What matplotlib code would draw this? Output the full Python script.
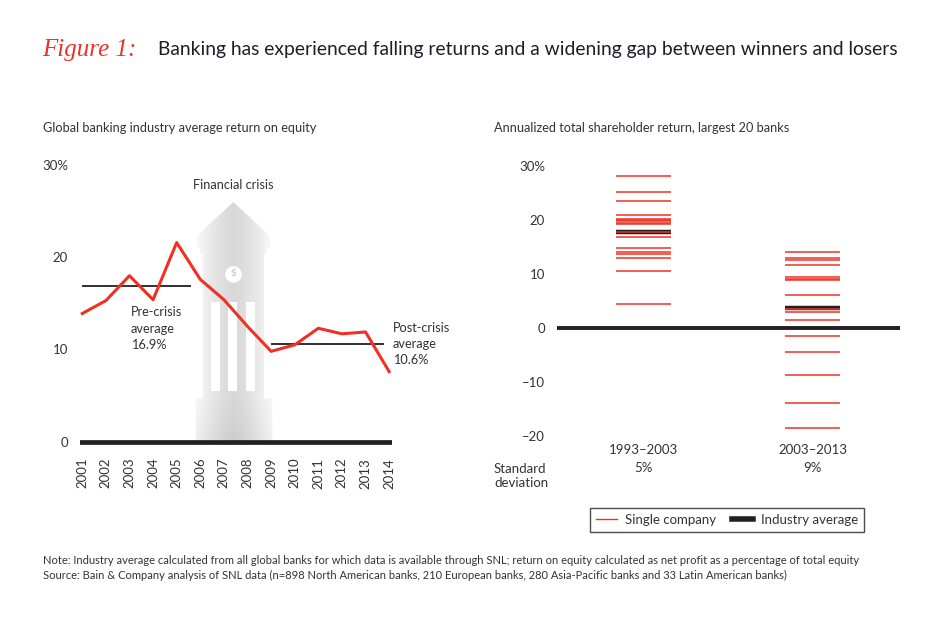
import numpy as np
import matplotlib.pyplot as plt
from matplotlib.patches import Polygon, Rectangle
from matplotlib.lines import Line2D

plt.rcParams['font.family'] = ['Lato', 'DejaVu Sans']

# left chart: global banking ROE
years = list(range(2001, 2015))
roe = [13.9, 15.3, 18.0, 15.4, 21.6, 17.6, 15.4, 12.5, 9.8, 10.5, 12.3, 11.7, 11.9, 7.6]
pre_avg = 16.9
post_avg = 10.6
pre_span = (2001, 2005.6)
post_span = (2009, 2013.8)
left_ticks = [0, 10, 20, 30]
left_ticklabels = ['0', '10', '20', '30%']

# right chart: TSR of largest 20 banks
periods = ['1993\u20132003', '2003\u20132013']
tsr_first = [28.1, 25.1, 23.5, 20.8, 20.1, 19.9, 19.7, 19.5, 19.3, 17.7,
             16.8, 14.8, 14.0, 13.6, 12.9, 10.5, 4.4]
tsr_second = [14.1, 12.9, 12.5, 11.6, 9.5, 9.1, 8.9, 6.0, 3.4, 2.9, 1.4,
              -1.5, -4.4, -8.8, -14.0, -18.6]
industry_avg = [17.7, 3.7]
std_dev = ['5%', '9%']
right_ticks = [-20, -10, 0, 10, 20, 30]
right_ticklabels = ['\u201320', '\u201310', '0', '10', '20', '30%']

RED = '#ee3124'
BLACK = '#231f20'
TXT = '#333333'

W, H = 950, 626


def fx(x):
    return x / W


def fy(y):
    return 1 - y / H


fig = plt.figure(figsize=(9.5, 6.26), dpi=100)

# title
fig.text(fx(42), fy(50), 'Figure 1:', color=RED, fontsize=18, style='italic',
         family=['Liberation Serif', 'DejaVu Serif'], va='center')
fig.text(fx(158), fy(50), 'Banking has experienced falling returns and a widening gap between winners and losers',
         color='#1e1e2a', fontsize=13.9, va='center')

fig.text(fx(43), fy(128), 'Global banking industry average return on equity', color=TXT, fontsize=9.2, va='center')
fig.text(fx(494), fy(128), 'Annualized total shareholder return, largest 20 banks', color=TXT, fontsize=9.2, va='center')

# ---- left chart ----
ax1 = fig.add_axes([fx(79.9), fy(450.9), (391.5 - 79.9) / W, (450.9 - 165.1) / H])
ax1.set_xlim(2000.9, 2014.1)
ax1.set_ylim(-1, 30)

# financial crisis arrow / bank building
outline = [(2005.8, 0), (2005.8, 4.7), (2006.1, 4.7), (2006.1, 20.3), (2006.0, 20.3),
           (2006.0, 21.1), (2005.85, 21.1), (2005.85, 22.3), (2007.4, 26.0),
           (2008.95, 22.3), (2008.95, 21.1), (2008.8, 21.1), (2008.8, 20.3),
           (2008.7, 20.3), (2008.7, 4.7), (2009.05, 4.7), (2009.05, 0)]
shape = Polygon(outline, closed=True, facecolor='none', edgecolor='none')
ax1.add_patch(shape)
gx = np.linspace(-1, 1, 200)
gy = np.linspace(0, 26, 120)
GX, GY = np.meshgrid(gx, gy)
grad = 0.845 + 0.14 * np.abs(GX) ** 1.3
grad = grad - 0.04 * np.clip(1 - GY / 5.0, 0, 1)
im = ax1.imshow(grad, extent=(2005.75, 2009.1, 0, 26), origin='lower', cmap='gray',
                vmin=0, vmax=1, aspect='auto', zorder=1)
im.set_clip_path(shape)
for cx in [2006.46, 2007.18, 2007.93]:
    ax1.add_patch(Rectangle((cx, 5.5), 0.38, 9.6, facecolor='white', edgecolor='none', zorder=2))
ax1.scatter([2007.4], [18.2], s=120, color='white', zorder=2)
ax1.text(2007.4, 18.2, '$', color='#cfcfcf', fontsize=7, fontweight='bold',
         ha='center', va='center', zorder=3)
ax1.text(2007.4, 27.8, 'Financial crisis', color=TXT, fontsize=9.2, ha='center', va='center')

ax1.axhline(0, color=BLACK, lw=3.4, zorder=3)
ax1.hlines(pre_avg, pre_span[0], pre_span[1], color=BLACK, lw=1.3, zorder=3)
ax1.hlines(post_avg, post_span[0], post_span[1], color=BLACK, lw=1.3, zorder=3)
ax1.plot(years, roe, color=RED, lw=2.2, zorder=4)

ax1.text(2003.05, 14.7, 'Pre-crisis\naverage\n16.9%', color=TXT, fontsize=9.2,
         va='top', ha='left', linespacing=1.45)
ax1.text(2014.15, 13.0, 'Post-crisis\naverage\n10.6%', color=TXT, fontsize=9.2,
         va='top', ha='left', linespacing=1.4)

ax1.set_xticks(years)
ax1.set_xticklabels([str(y) for y in years], rotation=90, color=TXT, fontsize=9.5)
ax1.set_yticks(left_ticks)
ax1.set_yticklabels(left_ticklabels, color=TXT, fontsize=9.5)
ax1.tick_params(axis='x', length=0, pad=5)
ax1.tick_params(axis='y', length=0, pad=8.5)
for s in ax1.spines.values():
    s.set_visible(False)

# ---- right chart ----
ax2 = fig.add_axes([fx(556.7), fy(441.2), (900 - 556.7) / W, (441.2 - 160.4) / H])
ax2.set_xlim(-0.514, 1.518)
ax2.set_ylim(-21, 31)
half = 0.163
ax2.axhline(0, color=BLACK, lw=2.8, zorder=2)
for i, vals in enumerate([tsr_first, tsr_second]):
    ax2.hlines(industry_avg[i], i - half, i + half, color=BLACK, lw=3.2, zorder=3)
    ax2.hlines(vals, i - half, i + half, color=RED, lw=1.1, zorder=4)

ax2.set_xticks([0, 1])
ax2.set_xticklabels(periods, color=TXT, fontsize=9.5)
ax2.set_yticks(right_ticks)
ax2.set_yticklabels(right_ticklabels, color=TXT, fontsize=9.5)
ax2.tick_params(axis='x', length=0, pad=2)
ax2.tick_params(axis='y', length=0, pad=8.5)
for s in ax2.spines.values():
    s.set_visible(False)

fig.text(fx(494), fy(476), 'Standard\ndeviation', color=TXT, fontsize=9.5, va='center', linespacing=1.15)
for i, sd in enumerate(std_dev):
    xp = ax2.transData.transform((i, 0))[0]
    fig.text(xp / fig.bbox.width, fy(468), sd, color=TXT, fontsize=9.5, ha='center', va='center')

handles = [Line2D([], [], color=RED, lw=1.0), Line2D([], [], color=BLACK, lw=4)]
leg = fig.legend(handles, ['Single company', 'Industry average'], loc='center',
                 bbox_to_anchor=(fx(727), fy(519.7)), ncol=2, frameon=True, fancybox=False,
                 edgecolor=BLACK, fontsize=9.5, handlelength=1.6, columnspacing=1.2,
                 borderpad=0.45, handletextpad=0.6)
leg.get_frame().set_linewidth(1)
for t in leg.get_texts():
    t.set_color(TXT)

fig.text(fx(43), fy(560), 'Note: Industry average calculated from all global banks for which data is available through SNL; '
         'return on equity calculated as net profit as a percentage of total equity', color=TXT, fontsize=8, va='center')
fig.text(fx(43), fy(575), 'Source: Bain & Company analysis of SNL data (n=898 North American banks, 210 European banks, '
         '280 Asia-Pacific banks and 33 Latin American banks)', color=TXT, fontsize=8, va='center')

fig.savefig('out.png', dpi=100)
